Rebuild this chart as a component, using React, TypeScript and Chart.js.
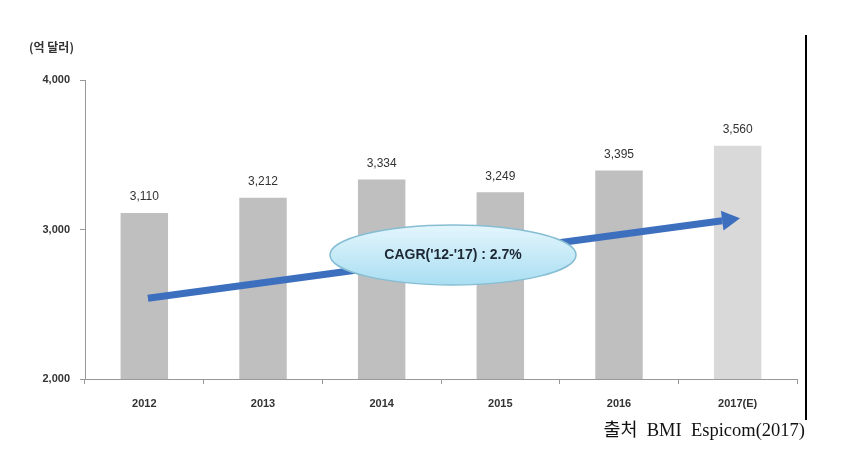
import React, { useEffect, useRef } from "react";
import { Chart, registerables } from "chart.js";

Chart.register(...registerables);

const categories = ["2012", "2013", "2014", "2015", "2016", "2017(E)"];
const values = [3110, 3212, 3334, 3249, 3395, 3560];
const barColors = ["#bfbfbf", "#bfbfbf", "#bfbfbf", "#bfbfbf", "#bfbfbf", "#d9d9d9"];
const yTicks = [2000, 3000, 4000];
const yTitle = "(억 달러)";
const cagrLabel = "CAGR('12-'17) : 2.7%";
const sourceLabel = "출처  BMI  Espicom(2017)";
// arrow start/end in data space: [category index, value]
const arrowStart = [0.03, 2540];
const arrowEnd = [5.02, 3075];

const fmt = (v: number) => v.toLocaleString("en-US");

const overlay = {
  id: "overlay",
  afterDatasetsDraw(chart: any) {
    const { ctx, chartArea, scales } = chart;
    const xs = scales.x;
    const ys = scales.y;
    const meta = chart.getDatasetMeta(0);
    ctx.save();
    // data labels
    ctx.font = "12px 'Liberation Sans', 'Noto Sans', sans-serif";
    ctx.fillStyle = "#333";
    ctx.textAlign = "center";
    ctx.textBaseline = "bottom";
    meta.data.forEach((bar: any, i: number) => {
      ctx.fillText(fmt(values[i]), bar.x, bar.y - 10);
    });
    // arrow
    const catW = xs.getPixelForValue(1) - xs.getPixelForValue(0);
    const x0 = xs.getPixelForValue(0) + arrowStart[0] * catW;
    const y0 = ys.getPixelForValue(arrowStart[1]);
    const x1 = xs.getPixelForValue(0) + arrowEnd[0] * catW;
    const y1 = ys.getPixelForValue(arrowEnd[1]);
    const ang = Math.atan2(y1 - y0, x1 - x0);
    const headLen = 18;
    const headW = 10;
    const bx = x1 - headLen * Math.cos(ang);
    const by = y1 - headLen * Math.sin(ang);
    ctx.strokeStyle = "#3d6fbf";
    ctx.lineWidth = 7;
    ctx.lineCap = "butt";
    ctx.beginPath();
    ctx.moveTo(x0, y0);
    ctx.lineTo(bx, by);
    ctx.stroke();
    ctx.fillStyle = "#3d6fbf";
    ctx.beginPath();
    ctx.moveTo(x1, y1);
    ctx.lineTo(bx + headW * Math.sin(ang), by - headW * Math.cos(ang));
    ctx.lineTo(bx - headW * Math.sin(ang), by + headW * Math.cos(ang));
    ctx.closePath();
    ctx.fill();
    // ellipse
    const ex = (xs.getPixelForValue(2) + xs.getPixelForValue(3)) / 2 + 12;
    const ey = ys.getPixelForValue(2830);
    const rx = 123;
    const ry = 30;
    const g = ctx.createLinearGradient(0, ey - ry, 0, ey + ry);
    g.addColorStop(0, "#e4f6fd");
    g.addColorStop(1, "#a9def2");
    ctx.fillStyle = g;
    ctx.strokeStyle = "#86bdd2";
    ctx.lineWidth = 1.5;
    ctx.beginPath();
    ctx.ellipse(ex, ey, rx, ry, 0, 0, Math.PI * 2);
    ctx.fill();
    ctx.stroke();
    ctx.fillStyle = "#1d2733";
    ctx.font = "bold 14px 'Liberation Sans', 'Noto Sans', sans-serif";
    ctx.textAlign = "center";
    ctx.textBaseline = "middle";
    ctx.fillText(cagrLabel, ex, ey);
    // y title
    ctx.fillStyle = "#333";
    ctx.font = "bold 12px 'Noto Sans CJK KR', sans-serif";
    ctx.textAlign = "left";
    ctx.textBaseline = "middle";
    ctx.fillText(yTitle, chartArea.left - 56, chartArea.top - 33);
    // right border line
    ctx.strokeStyle = "#000";
    ctx.lineWidth = 2;
    ctx.beginPath();
    ctx.moveTo(806, 35);
    ctx.lineTo(806, 420);
    ctx.stroke();
    // source
    ctx.fillStyle = "#111";
    ctx.font = "18.5px 'Liberation Serif', 'Noto Sans CJK KR', serif";
    ctx.textAlign = "right";
    ctx.textBaseline = "middle";
    ctx.fillText(sourceLabel, 805, 431);
    ctx.restore();
  },
};

export default function App() {
  const ref = useRef<HTMLCanvasElement>(null);
  useEffect(() => {
    if (!ref.current) return;
    const chart = new Chart(ref.current, {
      type: "bar",
      data: {
        labels: categories,
        datasets: [
          {
            data: values,
            backgroundColor: barColors,
            categoryPercentage: 1,
            barPercentage: 0.4,
          },
        ],
      },
      options: {
        animation: false,
        responsive: false,
        layout: { padding: { left: 0, right: 47, top: 80, bottom: 36 } },
        plugins: { legend: { display: false }, tooltip: { enabled: false } },
        scales: {
          x: {
            grid: { drawOnChartArea: false, drawTicks: true, tickLength: 5, color: "#999", offset: true },
            border: { display: true, color: "#999" },
            ticks: {
              color: "#333",
              font: { family: "'Liberation Sans', 'Noto Sans', sans-serif", size: 11, weight: "bold" },
              padding: 13,
            },
            afterFit: (s: any) => { s.height = 50; },
          },
          y: {
            min: 2000,
            max: 4000,
            afterBuildTicks: (s: any) => { s.ticks = yTicks.map((v) => ({ value: v })); },
            grid: { drawOnChartArea: false, drawTicks: true, tickLength: 5, color: "#999" },
            border: { display: true, color: "#999" },
            ticks: {
              color: "#333",
              font: { family: "'Liberation Sans', 'Noto Sans', sans-serif", size: 11, weight: "bold" },
              padding: 10,
              callback: (v: any) => fmt(Number(v)),
            },
            afterFit: (s: any) => { s.width = 85; },
          },
        },
      },
      plugins: [overlay],
    });
    return () => chart.destroy();
  }, []);
  return (
    <div style={{ position: "absolute", left: 0, top: 0, width: 844, height: 465, background: "#fff" }}>
      <canvas ref={ref} width={844} height={465} />
    </div>
  );
}
